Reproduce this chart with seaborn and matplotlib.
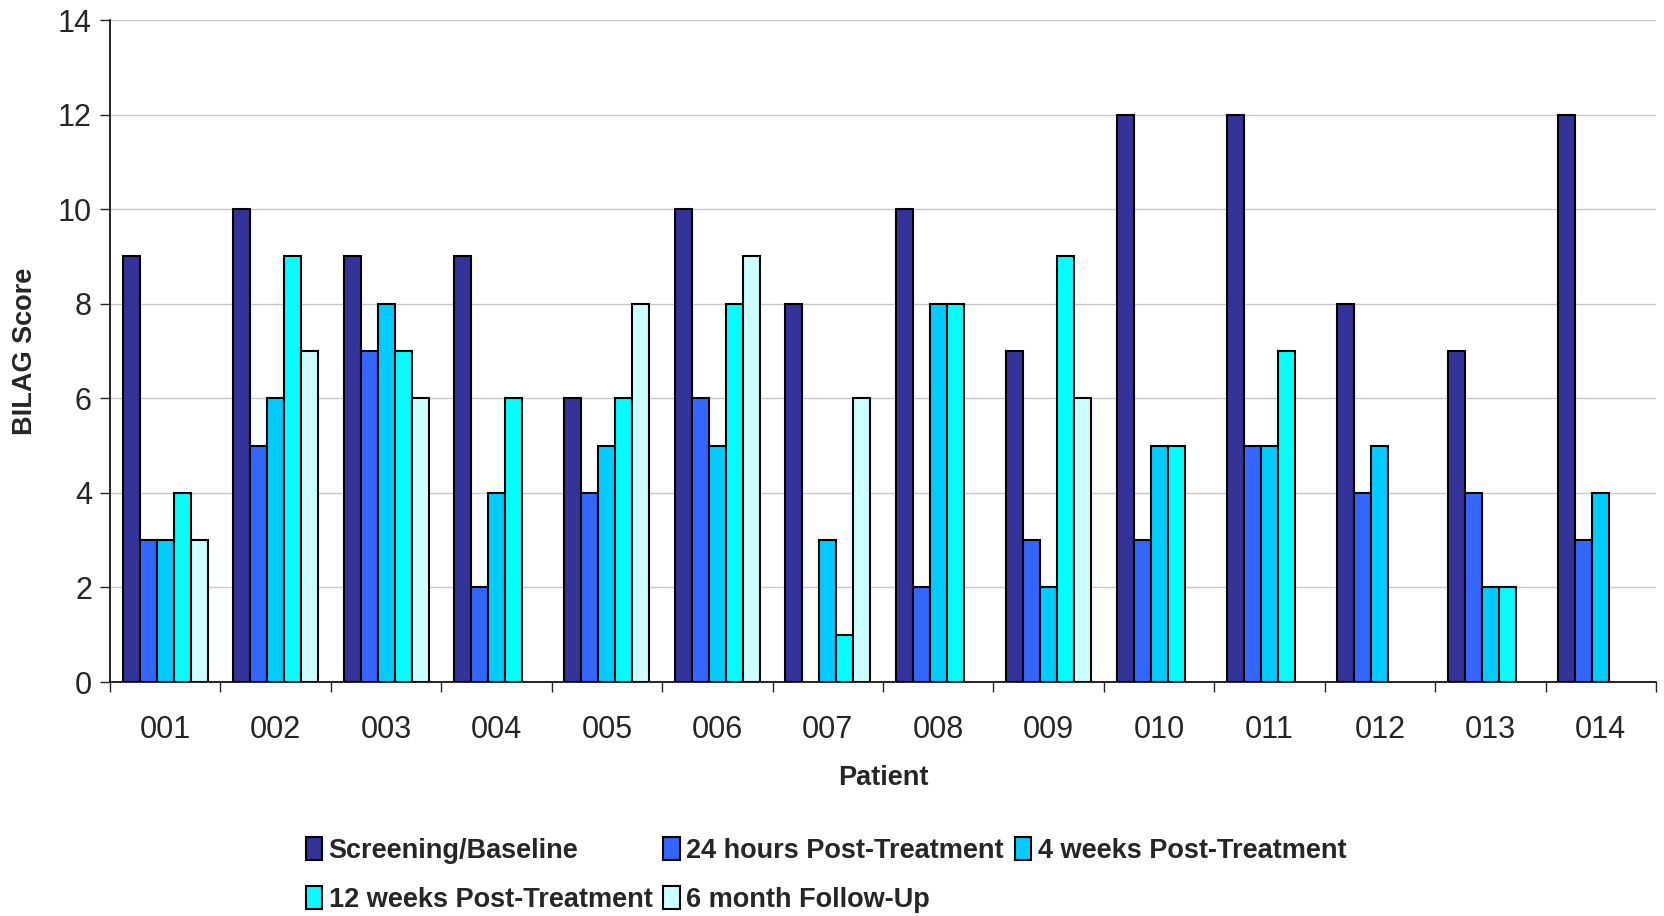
import numpy as np
import pandas as pd
import matplotlib
matplotlib.use("Agg")
import matplotlib.pyplot as plt
import seaborn as sns

patients = ["001", "002", "003", "004", "005", "006", "007",
            "008", "009", "010", "011", "012", "013", "014"]
series_names = ["Screening/Baseline", "24 hours Post-Treatment",
                "4 weeks Post-Treatment", "12 weeks Post-Treatment",
                "6 month Follow-Up"]
nan = np.nan
baseline = [9, 10, 9, 9, 6, 10, 8, 10, 7, 12, 12, 8, 7, 12]
hours_24 = [3, 5, 7, 2, 4, 6, nan, 2, 3, 3, 5, 4, 4, 3]
weeks_4 = [3, 6, 8, 4, 5, 5, 3, 8, 2, 5, 5, 5, 2, 4]
weeks_12 = [4, 9, 7, 6, 6, 8, 1, 8, 9, 5, 7, nan, 2, nan]
month_6 = [3, 7, 6, nan, 8, 9, 6, nan, 6, nan, nan, nan, nan, nan]
colors = ["#333399", "#3366FF", "#00CCFF", "#00FFFF", "#CCFFFF"]

rows = []
for name, vals in zip(series_names,
                      [baseline, hours_24, weeks_4, weeks_12, month_6]):
    for p, v in zip(patients, vals):
        rows.append({"Patient": p, "Visit": name, "Score": v})
df = pd.DataFrame(rows)

sns.set_style("white")
plt.rcParams["font.family"] = ["Liberation Sans", "DejaVu Sans"]

fig = plt.figure(figsize=(16.64, 9.16), dpi=100)
ax = fig.add_axes([110 / 1664, 1 - 682 / 916, (1656 - 110) / 1664, (682 - 20) / 916])

sns.barplot(data=df, x="Patient", y="Score", hue="Visit",
            order=patients, hue_order=series_names, palette=colors,
            saturation=1, width=0.77, edgecolor="black", linewidth=1.5,
            errorbar=None, ax=ax, zorder=3)

ax.set_ylim(0, 14)
ax.set_xlim(-0.5, len(patients) - 0.5)
ax.set_yticks(range(0, 15, 2))
ax.yaxis.grid(True, color="#c8c8c8", linewidth=1, zorder=0)
ax.set_axisbelow(True)

for side in ["top", "right"]:
    ax.spines[side].set_visible(False)
for side in ["left", "bottom"]:
    ax.spines[side].set_color("black")
    ax.spines[side].set_linewidth(1.2)

ax.tick_params(axis="y", direction="out", length=7, width=1, labelsize=22,
               left=True, pad=6)
ax.tick_params(axis="x", which="major", length=0, labelsize=22, pad=24)
ax.set_xticks(np.arange(-0.5, len(patients), 1.0), minor=True)
ax.tick_params(axis="x", which="minor", direction="out", length=7, width=1,
               bottom=True)

ax.set_xlabel("Patient", fontsize=19.5, fontweight="bold", labelpad=14)
ax.set_ylabel("BILAG Score", fontsize=19.5, fontweight="bold", labelpad=14)

handles, labels = ax.get_legend_handles_labels()
if ax.legend_ is not None:
    ax.legend_.remove()
# legend fills column by column; reorder so entries read across the rows
order = [0, 3, 1, 4, 2]
leg = fig.legend([handles[i] for i in order], [labels[i] for i in order],
                 loc="upper left", ncol=3,
                 bbox_to_anchor=(292 / 1664, 1 - 823 / 916),
                 frameon=False, handlelength=0.6, handleheight=0.95,
                 handletextpad=0.25, columnspacing=0.4, labelspacing=0.82,
                 borderpad=0, prop={"weight": "bold", "size": 19.5})

fig.savefig("out.png", dpi=100)
